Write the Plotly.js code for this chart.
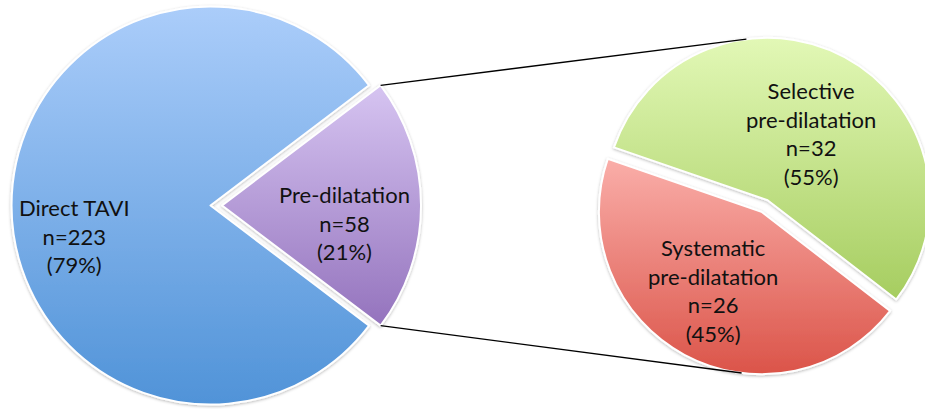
<!DOCTYPE html>
<html>
<head>
<meta charset="utf-8">
<script src="https://cdn.plot.ly/plotly-3.0.1.min.js"></script>
<style>
  html, body { margin: 0; padding: 0; overflow: hidden; background: #fff; width: 925px; height: 409px; }
  #chart { position: absolute; left: 0; top: -10px; width: 940px; height: 430px; }
</style>
</head>
<body>
<div id="chart"></div>
<script>
// Whole TAVI cohort: direct implantation vs balloon pre-dilatation
const mainLabels = ['Direct TAVI', 'Pre-dilatation'];
const mainCounts = [223, 58];

// Breakdown of the pre-dilatation group
const subLabels = ['Selective<br>pre-dilatation', 'Systematic<br>pre-dilatation'];
const subCounts = [32, 26];

// Vertical gradient stops per slice (top colour, bottom colour)
const mainGrad = [['#abcdfa', '#5093d8'], ['#d6c4f1', '#9473bd']];
const subGrad = [['#e2f8b6', '#a6cd60'], ['#faaea9', '#db5449']];

const W = 940, H = 430, OFFSET_Y = 10;   // figure is slightly larger than the window
const sum = a => a.reduce((s, v) => s + v, 0);
const pct = (v, a) => Math.round(100 * v / sum(a)) + '%';

// Pie placement (domains in paper fractions)
const mainDomain = { x: [0, 0.4479], y: [0, 0.9977] };
const subDomain = { x: [0.6335, 0.9931], y: [0.0977, 0.8977] };
const mainPull = [0, 0.058];
const subPull = [0.04, 0.04];

// The exploded slice faces right (3 o'clock)
const mainShare = mainCounts[1] / sum(mainCounts);
const mainRotation = 90 + mainShare * 180;
const subRotation = -71;

const traces = [
  {
    type: 'pie', labels: mainLabels, values: mainCounts, sort: false,
    direction: 'clockwise', rotation: mainRotation, pull: mainPull,
    domain: mainDomain, textinfo: 'none', hoverinfo: 'none', showlegend: false,
    marker: { colors: ['#7cb0ea', '#b49ad8'], line: { color: '#ffffff', width: 2 } }
  },
  {
    type: 'pie', labels: subLabels, values: subCounts, sort: false,
    direction: 'clockwise', rotation: subRotation, pull: subPull,
    domain: subDomain, textinfo: 'none', hoverinfo: 'none', showlegend: false,
    marker: { colors: ['#c6e38c', '#ec8279'], line: { color: '#ffffff', width: 2 } }
  }
];

// Geometry helpers mirroring how Plotly sizes a pie inside its domain
function pieGeom(domain, pulls) {
  const rx = W * (domain.x[1] - domain.x[0]) / 2;
  const ry = H * (domain.y[1] - domain.y[0]) / 2;
  const r = Math.min(rx, ry) / (1 + Math.max(...pulls));
  const cx = W * (domain.x[0] + domain.x[1]) / 2;
  const cy = H * (1 - domain.y[0]) - ry;
  return { r, cx, cy };
}
const rad = d => d * Math.PI / 180;
function pointOn(g, pull, midAngle, angle) {
  const ox = pull * g.r * Math.sin(rad(midAngle));
  const oy = -pull * g.r * Math.cos(rad(midAngle));
  return [g.cx + ox + g.r * Math.sin(rad(angle)), g.cy + oy - g.r * Math.cos(rad(angle))];
}
const toPaper = p => [p[0] / W, 1 - p[1] / H];

const gMain = pieGeom(mainDomain, mainPull);
const gSub = pieGeom(subDomain, subPull);

// Corners of the exploded pre-dilatation slice
const preStart = mainRotation + (1 - mainShare) * 360;
const preEnd = preStart + mainShare * 360;
const preMid = (preStart + preEnd) / 2;
const topStart = pointOn(gMain, mainPull[1], preMid, preStart);
const botStart = pointOn(gMain, mainPull[1], preMid, preEnd);

// Matching points near the top and bottom of the secondary pie
const subShare0 = subCounts[0] / sum(subCounts);
const selMid = subRotation + subShare0 * 180;
const sysMid = subRotation + subShare0 * 360 + (1 - subShare0) * 180;
const topEnd = pointOn(gSub, subPull[0], selMid, -7.5);
const botEnd = pointOn(gSub, subPull[1], sysMid, 187);

function connector(a, b) {
  const p = toPaper(a), q = toPaper(b);
  return { type: 'line', xref: 'paper', yref: 'paper', x0: p[0], y0: p[1], x1: q[0], y1: q[1],
           line: { color: '#000000', width: 1.3 } };
}

// Slice labels (window pixel positions of each text block)
const font = { family: 'Lato, "Open Sans", sans-serif', size: 22, color: '#111111' };
function label(text, x, y) {
  const p = toPaper([x, y + OFFSET_Y]);
  return { text, x: p[0], y: p[1], xref: 'paper', yref: 'paper', showarrow: false,
           xanchor: 'center', yanchor: 'middle', align: 'center', font };
}
const annotations = [
  label(`${mainLabels[0]}<br>n=${mainCounts[0]}<br>(${pct(mainCounts[0], mainCounts)})`, 74.5, 236),
  label(`${mainLabels[1]}<br>n=${mainCounts[1]}<br>(${pct(mainCounts[1], mainCounts)})`, 344, 223),
  label(`${subLabels[0]}<br>n=${subCounts[0]}<br>(${pct(subCounts[0], subCounts)})`, 811, 133),
  label(`${subLabels[1]}<br>n=${subCounts[1]}<br>(${pct(subCounts[1], subCounts)})`, 713, 290)
];

const layout = {
  width: W, height: H,
  margin: { l: 0, r: 0, t: 0, b: 0, pad: 0 },
  paper_bgcolor: '#ffffff', plot_bgcolor: '#ffffff',
  showlegend: false,
  shapes: [connector(topStart, topEnd), connector(botStart, botEnd)],
  annotations
};

Plotly.newPlot('chart', traces, layout, { staticPlot: true, displayModeBar: false }).then(gd => {
  const NS = 'http://www.w3.org/2000/svg';
  const svg = gd.querySelector('.main-svg');
  let defs = svg.querySelector('defs');
  if (!defs) { defs = document.createElementNS(NS, 'defs'); svg.insertBefore(defs, svg.firstChild); }

  // soft shadow around the slices
  const filt = document.createElementNS(NS, 'filter');
  filt.setAttribute('id', 'sliceShadow');
  filt.setAttribute('x', '-10%'); filt.setAttribute('y', '-10%');
  filt.setAttribute('width', '120%'); filt.setAttribute('height', '120%');
  const ds = document.createElementNS(NS, 'feDropShadow');
  ds.setAttribute('dx', '0'); ds.setAttribute('dy', '1');
  ds.setAttribute('stdDeviation', '1.6');
  ds.setAttribute('flood-color', '#000'); ds.setAttribute('flood-opacity', '0.28');
  filt.appendChild(ds);
  defs.appendChild(filt);

  const grads = [mainGrad, subGrad];
  gd.querySelectorAll('.pielayer g.trace').forEach((tr, ti) => {
    tr.querySelectorAll('g.slice path.surface').forEach((path, si) => {
      const id = `sliceGrad${ti}_${si}`;
      const lg = document.createElementNS(NS, 'linearGradient');
      lg.setAttribute('id', id);
      lg.setAttribute('x1', '0'); lg.setAttribute('y1', '0');
      lg.setAttribute('x2', '0'); lg.setAttribute('y2', '1');
      grads[ti][si].forEach((c, k) => {
        const st = document.createElementNS(NS, 'stop');
        st.setAttribute('offset', k === 0 ? '0' : '1');
        st.setAttribute('stop-color', c);
        lg.appendChild(st);
      });
      defs.appendChild(lg);
      path.style.fill = `url(#${id})`;
      path.style.filter = 'url(#sliceShadow)';
    });
  });
});
</script>
</body>
</html>
